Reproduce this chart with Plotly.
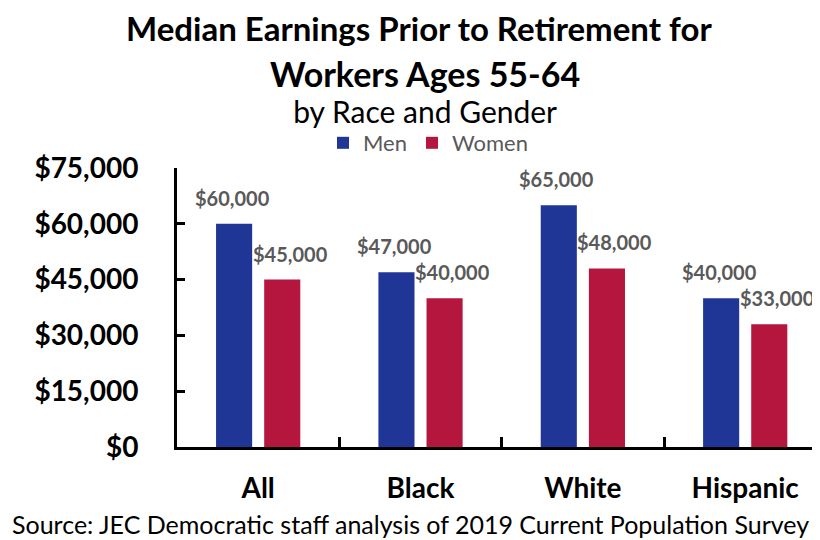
import plotly.graph_objects as go

categories = ["All", "Black", "White", "Hispanic"]
men = [60000, 47000, 65000, 40000]
women = [45000, 40000, 48000, 33000]
y_ticks = [0, 15000, 30000, 45000, 60000, 75000]

FONT = "Lato"
LABEL_GRAY = "#595959"

# the page body adds an 8px margin, so positions are measured in page px and shifted back
OFF = 8
W, H = 820, 540
L = 177 - OFF
T = 168 - OFF
B = H - (447 - OFF)
R = 0


def px_x(px):
    return (px - OFF - L) / (W - L - R)


def px_y(py):
    return (H - B - (py - OFF)) / (H - T - B)


fig = go.Figure()
fig.add_trace(go.Bar(x=categories, y=men, name="Men", marker=dict(color="#1F3696", line=dict(width=0))))
fig.add_trace(go.Bar(x=categories, y=women, name="Women", marker=dict(color="#B5163E", line=dict(width=0))))

# value labels
for vals, dx in [(men, -26), (women, 32)]:
    for cat, v in zip(categories, vals):
        fig.add_annotation(x=cat, y=v, text=f"<b>${v:,.0f}</b>", showarrow=False,
                           xshift=dx, yshift=26, yanchor="middle",
                           font=dict(size=20, color=LABEL_GRAY, family=FONT))

# titles and source
fig.add_annotation(text="<b>Median Earnings Prior to Retirement for</b>", x=px_x(419), y=px_y(28),
                   xref="paper", yref="paper", yanchor="middle", showarrow=False,
                   font=dict(size=33, color="black", family=FONT))
fig.add_annotation(text="<span style='font-size:34px'><b>Workers Ages 55-64</b></span><br>"
                        "<span style='font-size:30px'>by Race and Gender</span>",
                   x=px_x(425), y=px_y(91),
                   xref="paper", yref="paper", yanchor="middle", showarrow=False,
                   font=dict(size=28, color="black", family=FONT))
fig.add_annotation(text="Source: JEC Democratic staff analysis of 2019 Current Population Survey",
                   x=px_x(10), y=px_y(524), xref="paper", yref="paper", xanchor="left", yanchor="middle",
                   showarrow=False, font=dict(size=25, color="black", family=FONT))

fig.update_layout(
    width=W, height=H,
    margin=dict(l=L, r=R, t=T, b=B, autoexpand=False),
    plot_bgcolor="white", paper_bgcolor="white",
    barmode="group", bargap=0.407, bargroupgap=0.25,
    font=dict(family=FONT, color="black"),
    showlegend=True,
    legend=dict(orientation="h", x=px_x(428), xanchor="center", y=px_y(143), yanchor="middle",
                font=dict(size=22, color=LABEL_GRAY, family=FONT), traceorder="normal",
                itemwidth=30, tracegroupgap=0),
    xaxis=dict(
        range=[-0.5, 3.51], showline=True, linecolor="black", linewidth=3,
        ticks="inside", tickson="boundaries", ticklen=10, tickwidth=3, tickcolor="black",
        tickfont=dict(size=28, color="black", family=FONT, weight="bold"),
        ticklabelstandoff=14, showgrid=False, automargin=False,
    ),
    yaxis=dict(
        range=[0, 75000], tickvals=y_ticks, ticktext=[f"${v:,.0f}" for v in y_ticks],
        showline=True, linecolor="black", linewidth=3,
        ticks="inside", ticklen=8, tickwidth=3, tickcolor="black",
        tickfont=dict(size=28, color="black", family=FONT, weight="bold"),
        ticklabelstandoff=30, showgrid=False, zeroline=False, automargin=False,
    ),
)

fig.write_html("out.html")
